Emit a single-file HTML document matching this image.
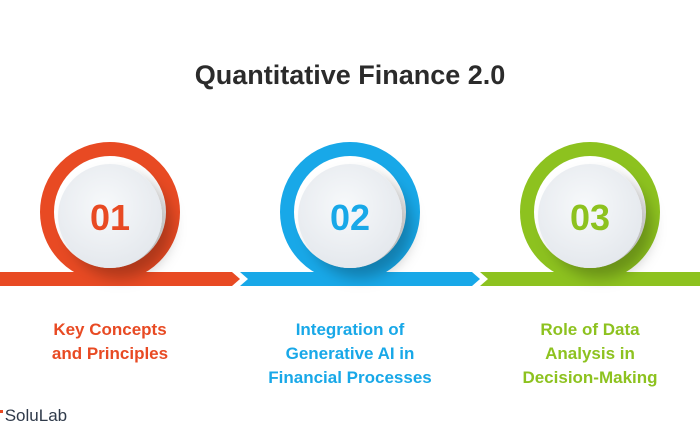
<!DOCTYPE html>
<html><head><style>
body{margin:0;width:700px;height:441px;background:#fff;overflow:hidden;position:relative;font-family:"Liberation Sans",sans-serif}
.t{position:absolute;top:60px;left:0;width:700px;text-align:center;font-size:27px;font-weight:bold;color:#2b2b2b}
.l{position:absolute;top:318px;width:240px;text-align:center;font-size:17px;font-weight:bold;line-height:24px}
.logo{position:absolute;left:0;top:406px;font-size:17px;color:#2f3a4a}
</style></head><body>
<div class="t">Quantitative Finance 2.0</div>
<svg width="700" height="441" style="position:absolute;left:0;top:0">
<defs>
<radialGradient id="g" cx="45%" cy="40%" r="65%"><stop offset="0" stop-color="#f7f9fb"/><stop offset="1" stop-color="#e3e7ec"/></radialGradient>
<filter id="s" x="-50%" y="-50%" width="200%" height="200%"><feDropShadow dx="10" dy="10" stdDeviation="7" flood-color="#000" flood-opacity="0.25"/></filter>
</defs>
<polygon points="0,272 232,272 240,279 232,286 0,286" fill="#e84a23"/>
<polygon points="240,272 472,272 480,279 472,286 240,286 248,279" fill="#18a8e8"/>
<polygon points="480,272 700,272 700,286 480,286 488,279" fill="#8dc21f"/>
<g>
<circle cx="110" cy="212" r="63" fill="none" stroke="#e84a23" stroke-width="14"/>
<circle cx="110" cy="216" r="52" fill="url(#g)" filter="url(#s)"/>
<text x="110" y="230" text-anchor="middle" font-size="36" font-weight="bold" fill="#e84a23" font-family="Liberation Sans">01</text>
</g>
<g>
<circle cx="350" cy="212" r="63" fill="none" stroke="#18a8e8" stroke-width="14"/>
<circle cx="350" cy="216" r="52" fill="url(#g)" filter="url(#s)"/>
<text x="350" y="230" text-anchor="middle" font-size="36" font-weight="bold" fill="#18a8e8" font-family="Liberation Sans">02</text>
</g>
<g>
<circle cx="590" cy="212" r="63" fill="none" stroke="#8dc21f" stroke-width="14"/>
<circle cx="590" cy="216" r="52" fill="url(#g)" filter="url(#s)"/>
<text x="590" y="230" text-anchor="middle" font-size="36" font-weight="bold" fill="#8dc21f" font-family="Liberation Sans">03</text>
</g>
<rect x="0" y="410" width="3" height="3" fill="#e84a23"/>
</svg>
<div class="l" style="left:-10px;color:#e84a23">Key Concepts<br>and Principles</div>
<div class="l" style="left:230px;color:#18a8e8">Integration of<br>Generative AI in<br>Financial Processes</div>
<div class="l" style="left:470px;color:#8dc21f">Role of Data<br>Analysis in<br>Decision-Making</div>
<div class="logo">&nbsp;SoluLab</div>
</body></html>
